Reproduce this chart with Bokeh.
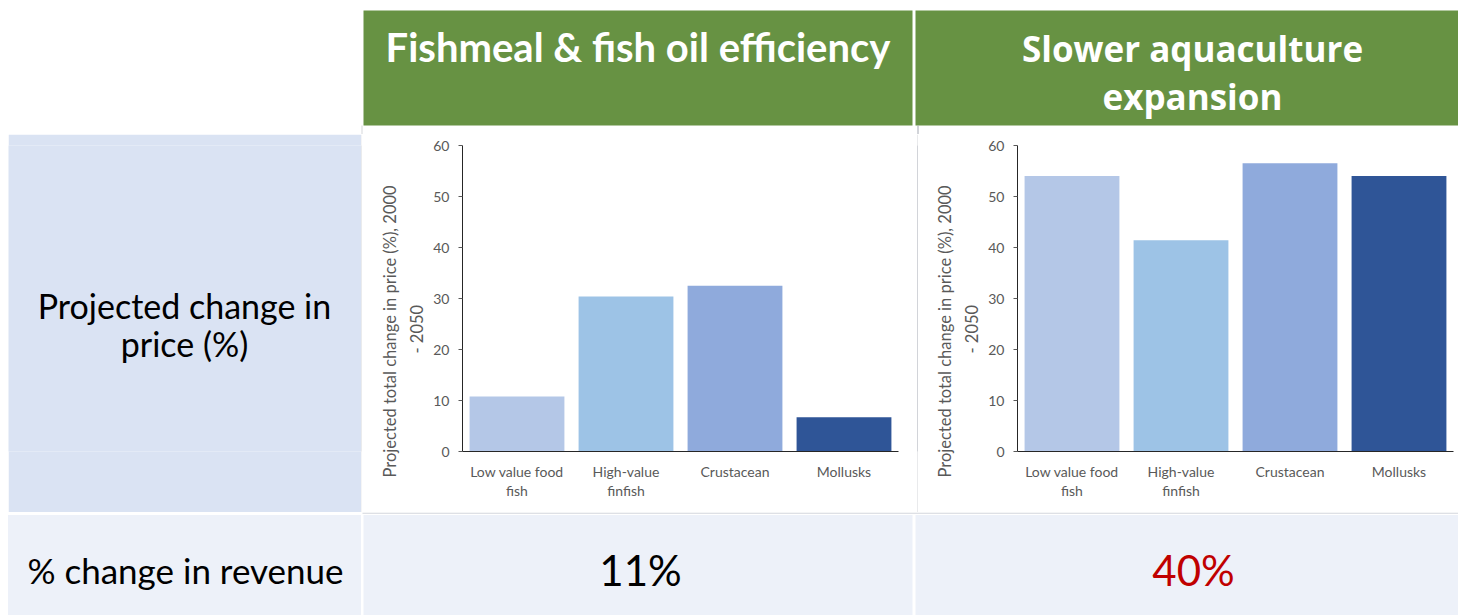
from bokeh.plotting import figure
from bokeh.layouts import column, row
from bokeh.models import ColumnDataSource, FixedTicker, LinearAxis, Range1d, Title
from bokeh.core.properties import value
from bokeh.embed import file_html
from bokeh.resources import INLINE

# ---- data -------------------------------------------------------------
categories = ["Low value food fish", "High-value finfish", "Crustacean", "Mollusks"]
tick_line1 = ["Low value food", "High-value", "Crustacean", "Mollusks"]
tick_line2 = ["fish", "finfish", "", ""]
fishmeal_efficiency = [10.8, 30.4, 32.5, 6.7]
slower_aquaculture = [54.0, 41.4, 56.5, 54.0]
bar_colors = ["#B4C7E7", "#9DC3E6", "#8FAADC", "#2F5597"]
y_ticks = [0, 10, 20, 30, 40, 50, 60]

scenario_titles = ["Fishmeal & fish oil efficiency", "Slower aquaculture\nexpansion"]
price_row_label = "Projected change in\nprice (%)"
revenue_row_label = "% change in revenue"
revenue_change = ["11%", "40%"]
revenue_colors = ["#000000", "#C00000"]
y_axis_title = ["Projected total change in price (%), 2000", "- 2050"]

# ---- styling ----------------------------------------------------------
GREEN = "#679243"
CELL_BLUE = "#DAE3F3"
CELL_PALE = "#EDF1F9"
AXIS_GREY = "#595959"
FONT = "Lato"

W = 1458
TOP_H, MID_H, BOT_H = 134, 378, 103      # row heights, 0-134-512-615
FRAME_TOP, FRAME_BOT = 145, 451          # chart plot area (absolute pixels)


def base_fig(w, h, xr, yr, fill="white", **kw):
    p = figure(width=w, height=h, x_range=xr, y_range=yr, output_backend="svg",
               toolbar_location=None, x_axis_location=None, y_axis_location=None,
               outline_line_color=None, background_fill_color=fill,
               border_fill_color=fill, **kw)
    p.grid.visible = False
    return p


def panel(w, h):
    """Drawing surface where one data unit is one pixel, y pointing down."""
    return base_fig(w, h, Range1d(0, w), Range1d(h, 0), min_border=0)


def lines_text(p, x, y0, text, gap, size, **kw):
    # baseline correction so that y0 is where the letters sit
    shift = 0.4 * size
    parts = text.split("\n")
    p.text(x=[x] * len(parts), y=[y0 - shift + i * gap for i in range(len(parts))],
           text=parts, text_align="center", text_baseline="alphabetic",
           text_font_size=f"{size}px", **kw)


# ---- header row -------------------------------------------------------
hdr = panel(W, TOP_H)
hdr.quad(left=[363, 915], right=[912, W], top=[10, 10], bottom=[125, 125],
         fill_color=GREEN, line_color=None)
hdr.quad(left=[361, 917], right=[362, 918], top=[125, 125], bottom=[TOP_H, TOP_H],
         fill_color=["#D6D8DC", "#A6AAB3"], line_color=None)
lines_text(hdr, 637.5, 62, scenario_titles[0], 48, 40, text_font=value(FONT),
           text_font_style="bold", text_color="white")
lines_text(hdr, 1192, 62, scenario_titles[1], 48, 35, text_font=value("Open Sans"),
           text_font_style="bold", text_color="white")

# ---- middle row -------------------------------------------------------
border_kw = dict(min_border_top=FRAME_TOP - TOP_H, min_border_bottom=TOP_H + MID_H - FRAME_BOT)


def strip(w, color):
    return base_fig(w, MID_H, Range1d(0, 1), Range1d(0, 1), fill=color,
                    min_border_left=0, min_border_right=0, **border_kw)


pad_left = strip(8, "white")
mid_left = base_fig(353, MID_H, Range1d(8, 361), Range1d(FRAME_BOT, FRAME_TOP),
                    fill=CELL_BLUE, min_border_left=0, min_border_right=0, **border_kw)
lines_text(mid_left, 184, 319, price_row_label, 38, 34, text_font=value(FONT),
           text_color="black")
rule_a = strip(1, "#D6D8DC")
rule_b = strip(1, "#A6AAB3")

slots = [i + 0.5 for i in range(len(categories))]


def axis_title(text, offset, standoff):
    return Title(text=text, align="left", offset=offset, standoff=standoff,
                 text_font=FONT, text_font_size="16.5px", text_font_style="normal",
                 text_color=AXIS_GREY)


def bar_chart(values, width, border_left, border_right):
    src = ColumnDataSource(dict(cat=categories, x=slots, val=values, color=bar_colors))
    p = figure(width=width, height=MID_H,
               x_range=Range1d(0, len(categories)), y_range=Range1d(0, 60),
               output_backend="svg", toolbar_location=None,
               min_border_left=border_left, min_border_right=border_right,
               outline_line_color=None, background_fill_color="white",
               border_fill_color="white", **border_kw)
    p.vbar(x="x", top="val", width=0.87, source=src, fill_color="color",
           line_color=None)
    p.grid.visible = False

    ya = p.yaxis[0]
    ya.ticker = FixedTicker(ticks=y_ticks)
    ya.minor_tick_line_color = None
    ya.major_tick_in = 0
    ya.major_tick_out = 4
    ya.major_tick_line_color = AXIS_GREY
    ya.axis_line_color = "#262626"
    ya.major_label_standoff = 9
    ya.major_label_text_font = FONT
    ya.major_label_text_font_size = "14px"
    ya.major_label_text_color = AXIS_GREY

    # two-line value-axis title, second line centred under the first
    p.add_layout(axis_title(y_axis_title[1], 98, 8), "left")
    p.add_layout(axis_title(y_axis_title[0], -26, 2), "left")

    def style_x(ax, lines, standoff):
        ax.ticker = FixedTicker(ticks=slots)
        ax.major_tick_in = 0
        ax.major_tick_out = 0
        ax.major_tick_line_color = None
        ax.minor_tick_line_color = None
        ax.major_label_standoff = standoff
        ax.major_label_overrides = dict(zip(slots, lines))
        ax.major_label_text_font = FONT
        ax.major_label_text_font_size = "14px"
        ax.major_label_text_color = AXIS_GREY

    xa = p.xaxis[0]
    style_x(xa, tick_line1, 11)
    xa.axis_line_color = "#262626"

    # second line of the wrapped category names
    xb = LinearAxis()
    style_x(xb, tick_line2, -1)
    xb.axis_line_color = None
    p.add_layout(xb, "below")
    return p


chart_a = bar_chart(fishmeal_efficiency, 555, 100, 19)
chart_b = bar_chart(slower_aquaculture, 540, 99, 5)

# ---- bottom row -------------------------------------------------------
bot = panel(W, BOT_H)
bot.quad(left=[362], right=[W], top=[0], bottom=[1.2], fill_color="#D3D6DC",
         line_color=None)
bot.quad(left=[7.5, 363, 915], right=[360.5, 912, W], top=[2.4] * 3,
         bottom=[BOT_H] * 3, fill_color=CELL_PALE, line_color=None)
lines_text(bot, 185, 71, revenue_row_label, 0, 35, text_font=value(FONT),
           text_color="black")
bot.text(x=[640, 1193], y=[74 - 0.4 * 42] * 2, text=revenue_change,
         text_color=revenue_colors, text_font=value(FONT), text_font_size="42px",
         text_align="center", text_baseline="alphabetic")

middle = row(pad_left, mid_left, rule_a, chart_a, rule_b, chart_b, spacing=0)
layout = column(hdr, middle, bot, spacing=0)

with open("out.html", "w") as f:
    f.write(file_html(layout, INLINE, title="Projected price and revenue changes"))
